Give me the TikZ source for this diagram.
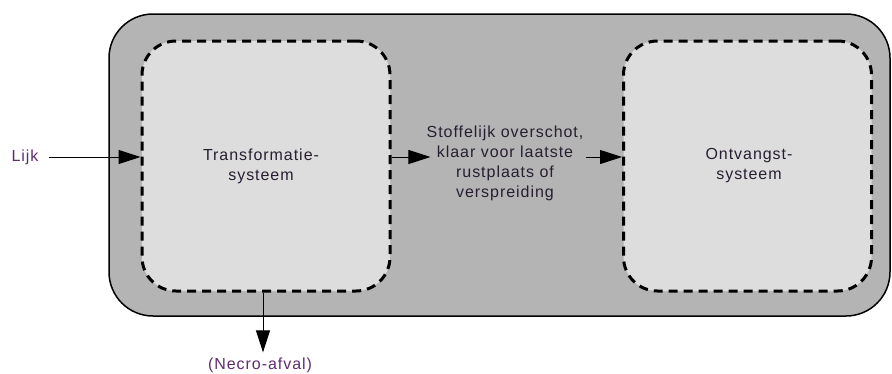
\documentclass[tikz,border=0pt]{standalone}
\usepackage{fontspec}
\setmainfont[LetterSpace=6]{Liberation Sans}
\usetikzlibrary{arrows.meta}
\definecolor{outerfill}{RGB}{180,180,180}
\definecolor{innerfill}{RGB}{221,221,221}
\definecolor{txtdark}{RGB}{40,30,50}
\definecolor{txtpurple}{RGB}{95,45,110}
\begin{document}
\begin{tikzpicture}[x=1pt,y=-1pt,
  every node/.style={font=\fontsize{16}{20}\selectfont},
  outerbox/.style={draw=black,line width=1.5pt,fill=outerfill,rounded corners=44pt,
    minimum width=781pt,minimum height=302pt,inner sep=0pt},
  subsys/.style={draw=black,line width=3pt,dash pattern=on 9pt off 6pt,fill=innerfill,
    rounded corners=34pt,minimum width=248pt,minimum height=250pt,inner sep=0pt,
    align=center,text=txtdark},
  lbl/.style={text=txtpurple,inner sep=0pt},
  midtxt/.style={text=txtdark,align=center,inner sep=0pt},
  arr/.style={line width=1pt,-{Triangle[length=22pt,width=14pt]}}]
\useasboundingbox (0,0) rectangle (892,373);
\node[outerbox] (outer) at (499.5,165) {};
\node[subsys] (tbox) at (266,166) {};
\node[subsys] (rbox) at (747.5,166) {};
\node[midtxt,text=txtdark] (tlabel) at (261,166) {Transformatie-\\systeem};
\node[midtxt,text=txtdark] (rlabel) at (749,166) {Ontvangst-\\systeem};
\node[midtxt] (mid) at (505,163) {Stoffelijk overschot,\\klaar voor laatste\\rustplaats of\\verspreiding};
\node[lbl] (lijk) at (25,157) {Lijk};
\node[lbl] (necro) at (260,365) {(Necro-afval)};
\draw[arr] ([xshift=10pt]lijk.east) -- (lijk.east -| tbox.west);
\draw[arr] (tbox.east |- lijk.east) -- ([xshift=4pt]mid.west |- lijk.east);
\draw[arr] ([xshift=2pt]mid.east |- lijk.east) -- (rbox.west |- lijk.east);
\draw[arr] ([xshift=-3pt]tbox.south) -- ([xshift=3pt,yshift=5pt]necro.north);
\end{tikzpicture}
\end{document}
